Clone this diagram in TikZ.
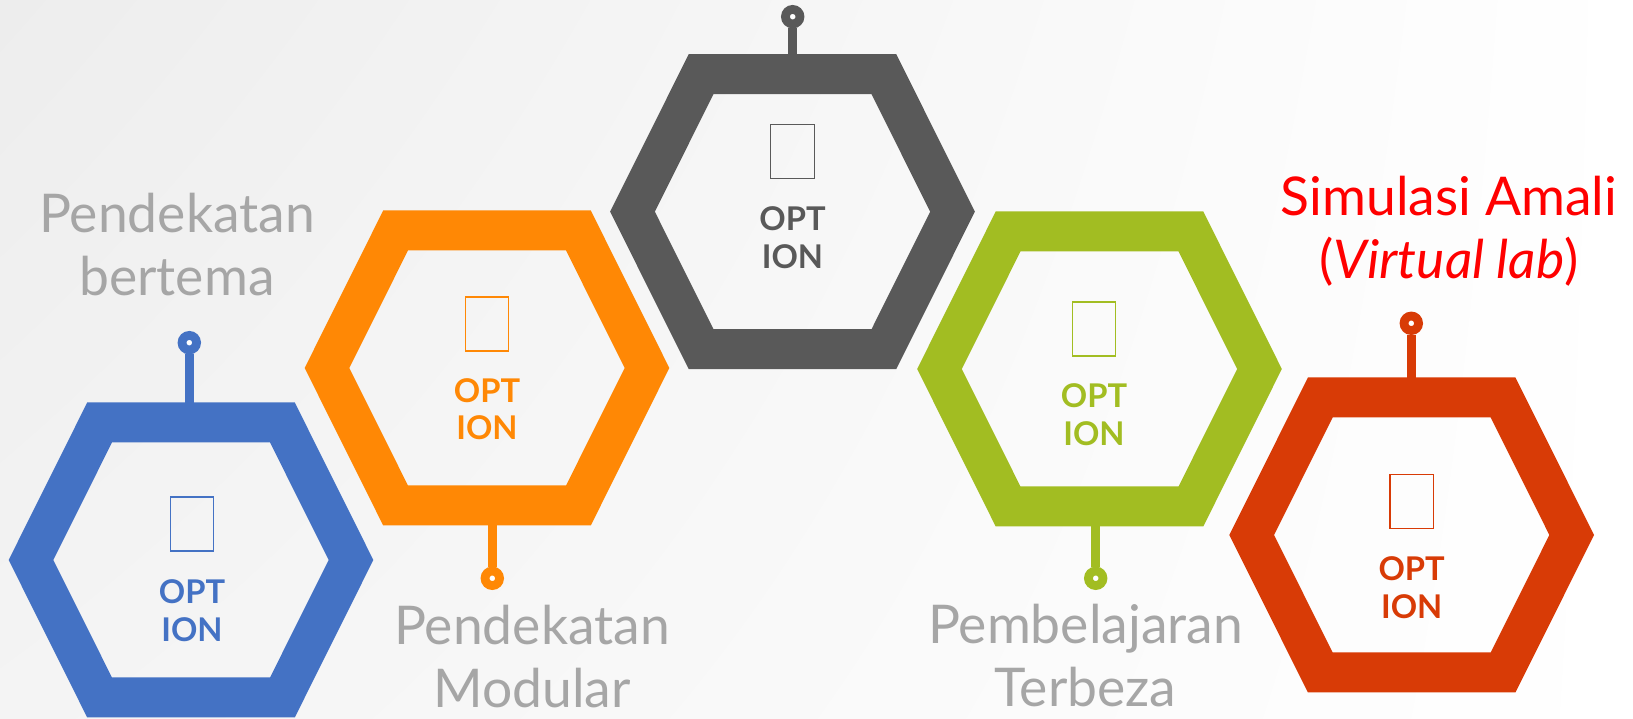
\documentclass[tikz,border=0pt]{standalone}
\usepackage{fontspec}
\setmainfont{Lato}
\usetikzlibrary{positioning, shadings}
\definecolor{HexBlue}{HTML}{4472C4}
\definecolor{HexOrange}{HTML}{FF8805}
\definecolor{HexGray}{HTML}{595959}
\definecolor{HexGreen}{HTML}{A2BD22}
\definecolor{HexRed}{HTML}{D83B06}
\definecolor{CaptionGray}{HTML}{A6A6A6}
\definecolor{BgTop}{HTML}{EDEDED}
\definecolor{BgLow}{HTML}{F4F4F4}

\begin{document}
\begin{tikzpicture}[
  hexline/.style={line width=0.4cm, line join=miter},
  stemline/.style={line width=0.09cm},
  pinhead/.style={circle, draw, fill=white, line width=0.088cm,
                  minimum size=0.145cm, inner sep=0pt},
  iconbox/.style={rectangle, draw, line width=0.4pt,
                  minimum width=0.435cm, minimum height=0.54cm, inner sep=0pt},
  optlbl/.style={font=\bfseries\fontsize{9.3}{10.8}\selectfont,
                 align=center, anchor=base, inner sep=0pt},
  caption/.style={font=\fontsize{15.2}{18.0}\selectfont, text=CaptionGray,
                  align=center, anchor=base, inner sep=0pt},
]
\def\hexa{1.60}
\def\hexb{1.375}
\def\hexc{0.914}
\useasboundingbox (0,0) rectangle (16.33,7.19);
\shade[upper left=BgTop, upper right=white, lower left=BgLow, lower right=white]
  (0,0) rectangle (16.33,7.19);

% hexagon rings with icon and label (label placed on its last baseline)
\foreach \n/\hx/\hy/\col/\cx/\iy/\oy in {
  blue/1.91/1.59/HexBlue/1.92/0.36/0.817,
  orange/4.87/3.51/HexOrange/4.87/0.44/0.72,
  gray/7.925/5.073/HexGray/7.925/0.60/0.566,
  green/10.995/3.50/HexGreen/10.94/0.40/0.767,
  red/14.117/1.84/HexRed/14.117/0.337/0.836} {
  \draw[hexline, draw=\col, shift={(\hx,\hy)}]
    (-\hexa,0) -- (-\hexc,\hexb) -- (\hexc,\hexb) -- (\hexa,0)
    -- (\hexc,-\hexb) -- (-\hexc,-\hexb) -- cycle;
  \node[iconbox, draw=\col] (icon-\n) at (\cx,\hy+\iy) {};
  \node[optlbl, text=\col] (opt-\n) at (\cx,\hy-\oy) {OPT\\ION};
}

% pins
\node[pinhead, draw=HexBlue] (blue-pin) at (1.893,3.763) {};
\coordinate (blue-top) at (1.893,2.965);
\draw[stemline, HexBlue] (blue-top) -- (blue-pin);

\node[pinhead, draw=HexOrange] (orange-pin) at (4.923,1.407) {};
\coordinate (orange-bot) at (4.923,2.135);
\draw[stemline, HexOrange] (orange-bot) -- (orange-pin);

\node[pinhead, draw=HexGray] (gray-pin) at (7.927,7.023) {};
\coordinate (gray-top) at (7.927,6.448);
\draw[stemline, HexGray] (gray-top) -- (gray-pin);

\node[pinhead, draw=HexGreen] (green-pin) at (10.957,1.407) {};
\coordinate (green-bot) at (10.957,2.125);
\draw[stemline, HexGreen] (green-bot) -- (green-pin);

\node[pinhead, draw=HexRed] (red-pin) at (14.113,3.957) {};
\coordinate (red-top) at (14.113,3.215);
\draw[stemline, HexRed] (red-top) -- (red-pin);

% captions
\node[caption] (cap-thematic) at (1.77,4.233) {Pendekatan\\bertema};
\node[caption] (cap-modular) at (5.32,0.11) {Pendekatan\\Modular};
\node[caption] (cap-differentiated) at (10.855,0.12) {Pembelajaran\\Terbeza};
\node[caption, text=red] (cap-virtual) at (14.49,4.407)
  {Simulasi Amali\\(\textit{Virtual lab})};
\end{tikzpicture}
\end{document}
